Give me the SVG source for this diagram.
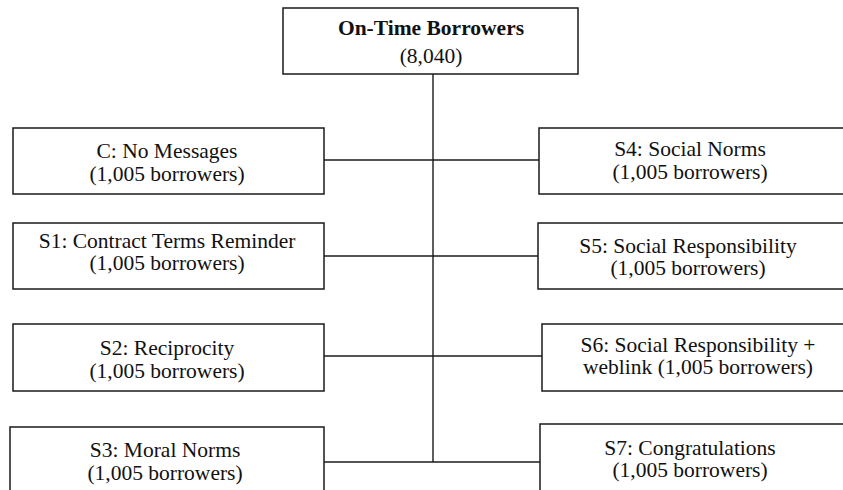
<svg xmlns="http://www.w3.org/2000/svg" width="843" height="490" viewBox="0 0 843 490">
<style>
.box{fill:#fff;stroke:#1a1a1a;stroke-width:1.5}
.t{font-family:'Liberation Serif','DejaVu Serif','Times New Roman',serif;font-size:21.5px;fill:#111;text-anchor:middle}
.b{font-weight:bold}
.c{stroke:#1a1a1a;stroke-width:1.4;fill:none}
</style>
<rect width="843" height="490" fill="#fff"/>
<g id="connectors">
<line class="c" x1="433" y1="74" x2="433" y2="462"/>
<line class="c" x1="324" y1="160" x2="539" y2="160"/>
<line class="c" x1="324" y1="256" x2="538" y2="256"/>
<line class="c" x1="324" y1="356" x2="542" y2="356"/>
<line class="c" x1="324" y1="462" x2="540" y2="462"/>
</g>
<g id="root">
<rect class="box" x="283" y="8" width="295" height="66"/>
<text class="t b" x="431" y="35">On-Time Borrowers</text>
<text class="t" x="431" y="63">(8,040)</text>
</g>
<g id="C">
<rect class="box" x="13" y="128" width="311" height="66"/>
<text class="t" x="167" y="158">C: No Messages</text>
<text class="t" x="167" y="181">(1,005 borrowers)</text>
</g>
<g id="S1">
<rect class="box" x="13" y="223" width="311" height="66"/>
<text class="t" x="167" y="248">S1: Contract Terms Reminder</text>
<text class="t" x="167" y="270">(1,005 borrowers)</text>
</g>
<g id="S2">
<rect class="box" x="13" y="324" width="311" height="67"/>
<text class="t" x="167" y="355">S2: Reciprocity</text>
<text class="t" x="167" y="378">(1,005 borrowers)</text>
</g>
<g id="S3">
<rect class="box" x="10" y="427" width="314" height="80"/>
<text class="t" x="165" y="457">S3: Moral Norms</text>
<text class="t" x="165" y="480">(1,005 borrowers)</text>
</g>
<g id="S4">
<rect class="box" x="539" y="128" width="310" height="66"/>
<text class="t" x="690" y="156">S4: Social Norms</text>
<text class="t" x="690" y="179">(1,005 borrowers)</text>
</g>
<g id="S5">
<rect class="box" x="538" y="223" width="310" height="66"/>
<text class="t" x="688" y="253">S5: Social Responsibility</text>
<text class="t" x="688" y="275">(1,005 borrowers)</text>
</g>
<g id="S6">
<rect class="box" x="542" y="324" width="310" height="67"/>
<text class="t" x="698" y="352">S6: Social Responsibility +</text>
<text class="t" x="698" y="374">weblink (1,005 borrowers)</text>
</g>
<g id="S7">
<rect class="box" x="540" y="424" width="310" height="80"/>
<text class="t" x="690" y="455">S7: Congratulations</text>
<text class="t" x="690" y="477">(1,005 borrowers)</text>
</g>
</svg>
